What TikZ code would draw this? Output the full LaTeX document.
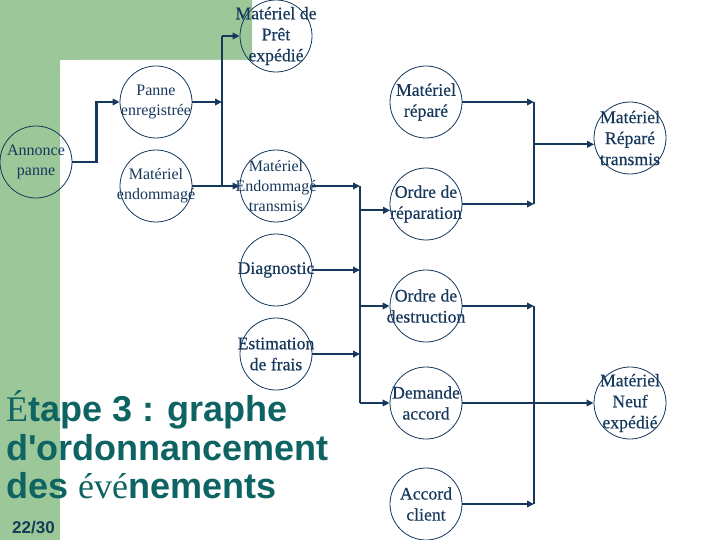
\documentclass[tikz,border=0pt]{standalone}
\usepackage{fontspec}
\setmainfont{Liberation Serif}
\newfontfamily\sansb{Liberation Sans}
\newfontfamily\thk[FakeBold=0.4]{Liberation Serif}
\usetikzlibrary{arrows.meta}
\definecolor{bggreen}{RGB}{156,200,153}
\definecolor{navy}{RGB}{22,56,92}
\definecolor{titleteal}{RGB}{14,100,98}
\definecolor{pagecol}{RGB}{18,62,88}
\begin{document}
\begin{tikzpicture}[x=1pt,y=-1pt,
  ev/.style={circle,draw=navy,line width=0.8pt,minimum size=72pt,inner sep=0pt},
  lbl/.style={text=navy,align=center,inner sep=0pt,font=\fontsize{16}{20}\selectfont},
  lblb/.style={text=navy,align=center,inner sep=0pt,font=\thk\fontsize{17.7}{21}\selectfont},
  conn/.style={draw=navy,line width=2.2pt,-{Triangle[length=7pt,width=6.5pt]}},
  bar/.style={draw=navy,line width=1.6pt},
  title/.style={anchor=base west,inner sep=0pt,text=titleteal,font=\sansb\bfseries\fontsize{36}{38}\selectfont}]
\useasboundingbox (0,0) rectangle (720,540);
\fill[white] (0,0) rectangle (720,540);
\fill[bggreen] (0,0) -- (252,0) -- (252,60) -- (60,60) -- (60,540) -- (0,540) -- cycle;
\fill[white,rounded corners=16pt] (60,60) rectangle (780,600);

% events
\node[ev,label={[lbl]center:Annonce\\panne}] (annonce) at (36,162) {};
\node[ev,label={[lbl]center:Panne\\enregistrée}] (panne) at (156,102) {};
\node[ev,label={[lbl]center:Matériel\\endommagé}] (endom) at (156,186) {};
\node[ev,label={[lblb]center:Matériel de\\Prêt\\expédié}] (pret) at (276,36) {};
\node[ev,label={[lbl]center:Matériel\\Endommagé\\transmis}] (endtr) at (276,186) {};
\node[ev,label={[lblb]center:Diagnostic}] (diag) at (276,270) {};
\node[ev,label={[lblb]center:Estimation\\de frais}] (estim) at (276,354) {};
\node[ev,label={[lblb]center:Matériel\\réparé}] (matrep) at (426,102) {};
\node[ev,label={[lblb]center:Ordre de\\réparation}] (ordrep) at (426,204) {};
\node[ev,label={[lblb]center:Ordre de\\destruction}] (odest) at (426,306) {};
\node[ev,label={[lblb]center:Demande\\accord}] (dem) at (426,403) {};
\node[ev,label={[lblb]center:Accord\\client}] (accord) at (426,504) {};
\node[ev,label={[lblb]center:Matériel\\Réparé\\transmis}] (reptr) at (630,138) {};
\node[ev,label={[lblb]center:Matériel\\Neuf\\expédié}] (neuf) at (630,403) {};

% junction bars
\coordinate (j1a) at (222,36);
\coordinate (j1b) at (222,186);
\coordinate (j2a) at (360,186);
\coordinate (j2b) at (360,403);
\coordinate (j3a) at (534,102);
\coordinate (j3b) at (534,204);
\coordinate (j3c) at (534,306);
\coordinate (j3d) at (534,504);

\draw[conn] (annonce.east) -- ++(24,0) |- (panne.west);
\draw[conn] (panne.east) -- (panne.east -| j1a);
\draw[bar] (j1a) -- (j1b);
\draw[conn] (j1a) -- (pret.west);
\draw[conn] (endom.east) -- (endtr.west);

\draw[conn] (endtr.east) -- (endtr.east -| j2a);
\draw[conn] (diag.east) -- (diag.east -| j2a);
\draw[conn] (estim.east) -- (estim.east -| j2a);
\draw[bar] (j2a) -- (j2b);
\draw[conn] (ordrep.190 -| j2a) -- (ordrep.190);
\draw[conn] (odest.west -| j2a) -- (odest.west);
\draw[conn] (j2b) -- (dem.west);

\draw[conn] (matrep.east) -- (j3a);
\draw[conn] (ordrep.east) -- (j3b);
\draw[bar] (j3a) -- (j3b);
\draw[conn] (reptr.190 -| j3a) -- (reptr.190);
\draw[conn] (odest.east) -- (j3c);
\draw[conn] (accord.east) -- (j3d);
\draw[bar] (j3c) -- (j3d);
\draw[conn] (dem.east) -- (neuf.west);

% title
\node[title] (t1) at (6,421) {{\rmfamily\mdseries É}tape 3 : graphe};
\node[title] (t2) at (6,460) {d\textquotesingle ordonnancement};
\node[title] (t3) at (6,498) {des {\rmfamily\mdseries évé}nements};
\node[anchor=base west,inner sep=0pt,text=pagecol,font=\sansb\bfseries\fontsize{17}{17}\selectfont] (pg) at (12,533) {22/30};
\end{tikzpicture}
\end{document}
